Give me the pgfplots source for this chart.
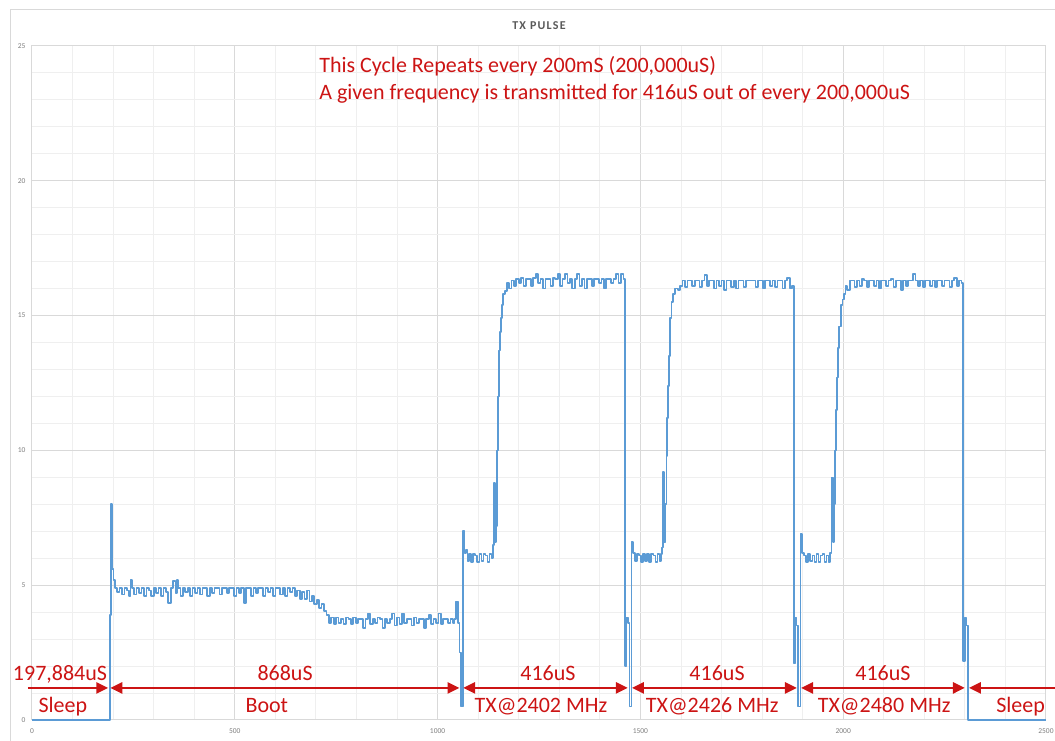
\documentclass[border=0pt]{standalone}
\usepackage{fontspec}
\setmainfont{Carlito}
\newfontfamily\titlefont[LetterSpace=10]{Carlito}
\usepackage{pgfplots}
\usepackage{pgfplotstable}
\pgfplotsset{compat=1.18}
\usetikzlibrary{arrows.meta}
\definecolor{trace}{HTML}{5B9BD5}
\definecolor{anno}{RGB}{204,20,20}
\definecolor{majgrid}{HTML}{D9D9D9}
\definecolor{mingrid}{HTML}{EFEFEF}
\definecolor{ticklab}{HTML}{7F7F7F}
\definecolor{titlecol}{HTML}{595959}

\pgfplotstableread{
x y
0 0
190 0
192 3.9
195 8.0
198 5.6
201 5.2
205 4.9
210 4.75
216 4.9
222 4.65
228 4.9
234 4.8
240 4.6
243 5.2
246 4.9
252 4.65
258 4.9
264 4.7
270 4.9
276 4.6
282 4.9
288 4.8
294 4.6
300 4.9
306 4.7
312 4.9
318 4.6
324 4.9
330 4.75
336 4.35
342 4.9
348 5.15
354 4.7
357 5.2
360 4.9
366 4.6
372 4.9
378 4.75
384 4.9
390 4.6
396 4.9
402 4.7
408 4.9
414 4.65
420 4.9
426 4.9
432 4.6
438 4.9
444 4.7
450 4.9
456 4.9
462 4.65
468 4.9
474 4.9
480 4.7
486 4.9
492 4.9
498 4.6
504 4.9
510 4.7
516 4.9
522 4.35
528 4.9
534 4.9
540 4.6
546 4.9
552 4.7
558 4.9
564 4.9
570 4.6
576 4.9
582 4.75
588 4.9
594 4.6
600 4.9
606 4.9
612 4.65
618 4.9
624 4.6
630 4.9
636 4.75
642 4.9
648 4.6
654 4.8
660 4.5
666 4.75
672 4.5
678 4.8
684 4.4
690 4.6
696 4.3
702 4.45
708 4.15
714 4.3
720 4.05
726 3.9
732 3.6
738 3.8
744 3.55
750 3.8
756 3.6
762 3.75
768 3.55
774 3.8
780 3.75
786 3.55
792 3.8
798 3.6
804 3.75
810 3.75
816 3.4
822 3.75
828 3.95
834 3.55
840 3.75
846 3.6
852 3.8
858 3.75
864 3.4
870 3.75
876 3.6
882 3.75
888 3.95
894 3.5
900 3.8
906 3.55
912 3.95
918 3.6
924 3.75
930 3.75
936 3.5
942 3.8
948 3.6
954 3.75
960 3.75
966 3.4
972 3.75
978 3.9
984 3.55
990 3.75
996 3.6
1002 3.95
1008 3.55
1014 3.75
1020 3.75
1026 3.6
1032 3.75
1038 3.6
1042 3.75
1046 4.4
1050 3.6
1054 2.5
1058 0.5
1062 7.0
1066 6.2
1070 6.3
1074 5.9
1078 6.15
1083 5.85
1088 6.15
1093 6.1
1098 5.85
1103 6.15
1108 5.9
1113 6.15
1118 6.1
1123 5.85
1128 6.15
1133 6.0
1136 6.5
1139 8.8
1141 6.6
1144 7.2
1147 10.0
1149 12.0
1151 13.7
1154 14.4
1156 14.9
1159 15.4
1161 15.8
1166 15.9
1171 16.2
1176 16.0
1182 16.3
1188 16.1
1194 16.35
1200 16.2
1206 16.4
1212 16.1
1218 16.35
1224 16.35
1230 16.1
1236 16.4
1242 16.55
1248 16.2
1254 16.35
1260 16.0
1266 16.35
1272 16.35
1278 16.1
1284 16.4
1290 16.35
1296 16.55
1302 16.1
1308 16.35
1314 16.55
1320 16.2
1326 16.35
1332 16.0
1338 16.35
1344 16.55
1350 16.1
1356 16.35
1362 16.0
1368 16.35
1374 16.35
1380 16.1
1386 16.35
1392 16.35
1398 16.2
1404 16.35
1410 16.0
1416 16.35
1422 16.35
1428 16.2
1434 16.35
1440 16.55
1446 16.2
1452 16.55
1458 16.35
1462 2.0
1466 3.8
1469 3.6
1473 0.5
1478 6.6
1482 6.2
1487 5.9
1492 6.15
1497 6.1
1502 5.85
1507 6.15
1512 5.9
1517 6.15
1522 5.85
1527 6.15
1532 6.1
1537 5.85
1542 6.15
1547 5.9
1551 6.15
1554 6.4
1556 9.2
1559 6.6
1562 8.0
1564 9.8
1566 11.2
1568 12.4
1570 13.5
1573 14.9
1577 15.5
1580 15.8
1586 16.0
1592 15.95
1598 16.1
1604 16.3
1610 16.05
1616 16.3
1622 16.3
1628 16.1
1634 16.3
1640 16.3
1646 16.05
1652 16.3
1658 16.5
1664 16.1
1670 16.3
1676 16.3
1682 16.0
1688 16.3
1694 16.1
1700 16.3
1706 15.95
1712 16.3
1718 16.3
1724 16.05
1730 16.3
1736 16.0
1742 16.3
1748 16.3
1754 16.05
1760 16.3
1766 16.3
1772 16.3
1778 16.3
1784 16.05
1790 16.3
1796 16.3
1802 16.0
1808 16.3
1814 16.3
1820 16.1
1826 16.3
1832 16.05
1838 16.3
1844 16.3
1850 16.0
1856 16.3
1862 16.4
1868 16.0
1874 16.1
1878 2.1
1882 3.8
1885 3.5
1889 0.5
1895 6.9
1899 6.2
1904 6.1
1909 5.85
1914 6.15
1919 5.9
1924 6.1
1929 5.85
1934 6.15
1939 5.85
1944 6.1
1949 6.15
1954 5.85
1959 6.1
1964 5.85
1968 6.2
1971 9.0
1974 6.6
1977 8.0
1980 10.0
1983 11.5
1985 12.7
1988 13.8
1990 14.6
1995 15.4
1998 15.6
2002 15.8
2006 16.1
2010 15.95
2016 16.3
2022 16.3
2028 16.05
2034 16.3
2040 16.1
2046 16.35
2052 16.3
2058 16.05
2064 16.3
2070 16.3
2076 16.1
2082 16.3
2088 16.0
2094 16.3
2100 16.3
2106 16.1
2112 16.3
2118 16.35
2124 16.05
2130 16.3
2136 16.3
2142 15.95
2148 16.3
2154 16.1
2160 16.3
2166 16.3
2172 16.55
2178 16.3
2184 16.1
2190 16.3
2196 16.05
2202 16.3
2208 16.3
2214 16.1
2220 16.3
2226 16.05
2232 16.3
2238 16.3
2244 16.1
2250 16.3
2256 16.3
2262 16.05
2268 16.3
2274 16.4
2280 16.1
2286 16.3
2292 16.2
2296 2.2
2300 3.8
2303 3.5
2307 0
2500 0
}\tracedata

\begin{document}
\begin{tikzpicture}
\useasboundingbox (0,0) rectangle (1055pt,741pt);
\draw[majgrid, line width=1pt] (10pt,0) -- (10pt,731pt) -- (1055pt,731pt);
\begin{axis}[
  at={(32pt,21pt)}, anchor=south west, scale only axis,
  width=1014pt, height=674pt,
  xmin=0, xmax=2500, ymin=0, ymax=25,
  xtick={0,500,...,2500}, ytick={0,5,...,25},
  minor x tick num=4, minor y tick num=4,
  grid=both,
  major grid style={majgrid, line width=1pt},
  minor grid style={mingrid, line width=0.9pt},
  axis line style={majgrid, line width=1pt},
  major tick length=0pt, minor tick length=0pt,
  tick label style={font=\fontsize{7.5}{9}\selectfont, text=ticklab},
  /pgf/number format/assume math mode=true,
  /pgf/number format/1000 sep={},
  xticklabel style={yshift=-5pt},
  yticklabel style={xshift=-3pt},
  clip=false,
]
\addplot[trace, line width=1.7pt, line join=round, const plot] table[x=x, y=y] {\tracedata};

\node[text=titlecol, font=\titlefont\bfseries\fontsize{12}{14}\selectfont] at (axis cs:1250,25.74) {TX PULSE};

\node[anno, anchor=base west, inner sep=0pt, font=\fontsize{22}{26}\selectfont] at (axis cs:708,24.0) {This Cycle Repeats every 200mS (200,000uS)};
\node[anno, anchor=base west, inner sep=0pt, font=\fontsize{22}{26}\selectfont] at (axis cs:708,23.0) {A given frequency is transmitted for 416uS out of every 200,000uS};

\tikzset{arr/.style={anno, line width=2.6pt}}
\draw[arr, -{Triangle[length=12pt,width=11pt]}] (axis cs:-10,1.19) -- (axis cs:188,1.19);
\draw[arr, {Triangle[length=12pt,width=11pt]}-{Triangle[length=12pt,width=11pt]}] (axis cs:193,1.19) -- (axis cs:1054,1.19);
\draw[arr, {Triangle[length=12pt,width=11pt]}-{Triangle[length=12pt,width=11pt]}] (axis cs:1063,1.19) -- (axis cs:1469,1.19);
\draw[arr, {Triangle[length=12pt,width=11pt]}-{Triangle[length=12pt,width=11pt]}] (axis cs:1479,1.19) -- (axis cs:1886,1.19);
\draw[arr, {Triangle[length=12pt,width=11pt]}-{Triangle[length=12pt,width=11pt]}] (axis cs:1896,1.19) -- (axis cs:2300,1.19);
\draw[arr, {Triangle[length=12pt,width=11pt]}-] (axis cs:2310,1.19) -- (axis cs:2540,1.19);

\tikzset{lab/.style={anno, anchor=base, inner sep=0pt, font=\fontsize{22}{26}\selectfont}}
\node[lab] at (axis cs:69,1.48) {197,884uS};
\node[lab] at (axis cs:624,1.48) {868uS};
\node[lab] at (axis cs:1272,1.48) {416uS};
\node[lab] at (axis cs:1689,1.48) {416uS};
\node[lab] at (axis cs:2098,1.48) {416uS};
\node[lab] at (axis cs:76,0.26) {Sleep};
\node[lab] at (axis cs:579,0.26) {Boot};
\node[lab] at (axis cs:1255,0.26) {TX@2402 MHz};
\node[lab] at (axis cs:1677,0.26) {TX@2426 MHz};
\node[lab] at (axis cs:2101,0.26) {TX@2480 MHz};
\node[lab, anchor=base west] at (axis cs:2377,0.26) {Sleep};
\end{axis}
\end{tikzpicture}
\end{document}
